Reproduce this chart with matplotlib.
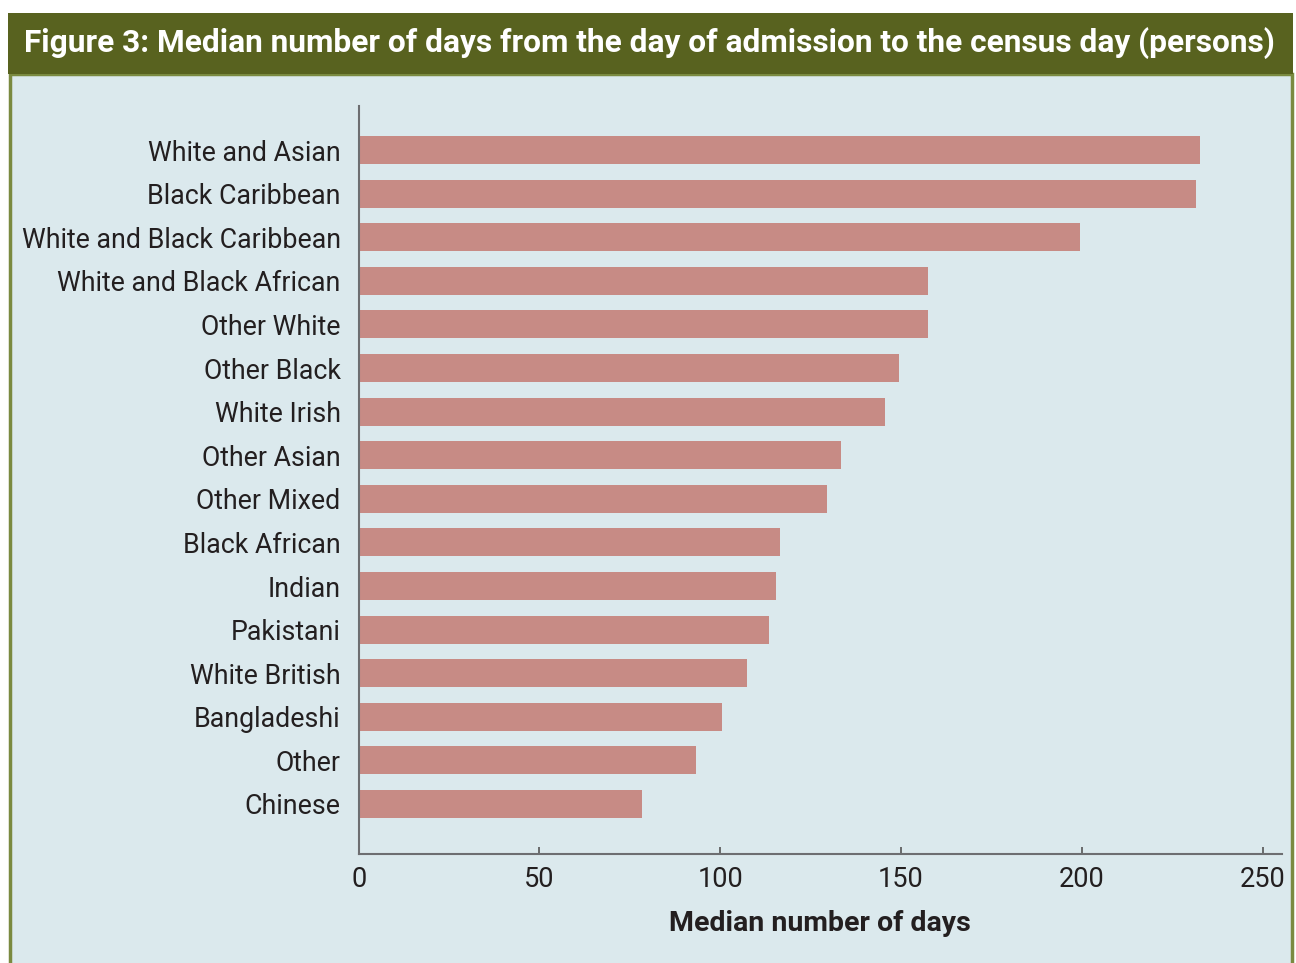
import matplotlib.pyplot as plt
from matplotlib.patches import Rectangle

# values
groups = ["White and Asian", "Black Caribbean", "White and Black Caribbean",
          "White and Black African", "Other White", "Other Black", "White Irish",
          "Other Asian", "Other Mixed", "Black African", "Indian", "Pakistani",
          "White British", "Bangladeshi", "Other", "Chinese"]
median_days = [232.8, 231.7, 199.5, 157.5, 157.5, 149.5, 145.6, 133.4,
               129.5, 116.5, 115.4, 113.4, 107.3, 100.5, 93.3, 78.4]
xticks = [0, 50, 100, 150, 200, 250]

W, H = 1296, 963
fig = plt.figure(figsize=(W / 100, H / 100), dpi=100)
fig.patch.set_facecolor("white")
plt.rcParams['font.family'] = ['Roboto', 'DejaVu Sans']

# panel background and title band (bottom edge runs off the image)
fig.patches.append(Rectangle((9.5 / W, -0.05), (1292 - 9.5) / W, (H - 74) / H + 0.05,
                             transform=fig.transFigure, facecolor="#dbe9ed",
                             edgecolor="#7a8a40", lw=2.5, zorder=-10))
fig.patches.append(Rectangle((8 / W, 1 - 74 / H), (1293 - 8) / W, 61 / H,
                             transform=fig.transFigure, facecolor="#58621f",
                             edgecolor="none", zorder=-9))
fig.text(24 / W, 1 - 43 / H,
         "Figure 3: Median number of days from the day of admission to the census day (persons)",
         color="white", fontsize=22.8, fontweight="bold", ha="left", va="center")

ax = fig.add_axes([358.7 / W, 1 - 853.7 / H, (1281.7 - 358.7) / W, (853.7 - 106) / H])
ax.set_facecolor("none")
ypos = list(range(len(groups)))
ax.barh(ypos, median_days, height=0.64, color="#c78b85", zorder=2)
ax.set_xlim(0, 255.3)
ax.set_ylim(16.14, -1.01)
ax.set_yticks(ypos)
ax.set_yticklabels(groups, fontsize=19.3, color="#231f20")
ax.set_xticks(xticks)
ax.set_xticklabels([str(t) for t in xticks], fontsize=19.5, color="#231f20")
ax.tick_params(axis="y", length=0, pad=13)
ax.tick_params(axis="x", direction="in", length=5, width=1.2, color="#555555", pad=9)
for s in ["top", "right"]:
    ax.spines[s].set_visible(False)
for s in ["left", "bottom"]:
    ax.spines[s].set_color("#6d6e71")
    ax.spines[s].set_linewidth(1.5)
ax.set_xlabel("Median number of days", fontsize=20.5, fontweight="bold",
              color="#231f20", labelpad=12)

fig.savefig("out.png", dpi=100, facecolor=fig.get_facecolor())
